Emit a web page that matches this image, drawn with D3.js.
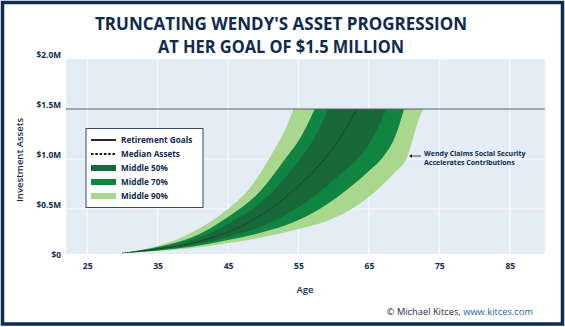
<!DOCTYPE html>
<html><head><meta charset="utf-8">
<script src="https://cdn.jsdelivr.net/npm/d3@7"></script>
<style>
html,body{margin:0;padding:0;background:#fff;}
svg{display:block;}
text{font-family:"Open Sans",Lato,sans-serif;}
</style></head>
<body>
<svg id="chart" width="565" height="327"></svg>
<script>
// ---- data (ages, values in $M) ----
const titleLines = ["TRUNCATING WENDY'S ASSET PROGRESSION", "AT HER GOAL OF $1.5 MILLION"];
const xTicks = [25, 35, 45, 55, 65, 75, 85];
const yTicks = [0, 0.5, 1.0, 1.5, 2.0];
const yTickLabels = ["$0", "$0.5M", "$1.0M", "$1.5M", "$2.0M"];
const goal = 1.5;
// percentile curves [age, value $M], each ends where it reaches the $1.5M goal
const p95 = [[30,0.06],[35,0.13],[40,0.27],[45,0.50],[48,0.70],[50.8,1.0],[53.4,1.34],[54.3,1.5]];
const p85 = [[30,0.06],[35,0.12],[40,0.22],[45,0.42],[49.6,0.68],[53,0.99],[55.5,1.24],[57.3,1.5]];
const p75 = [[30,0.06],[35,0.11],[40,0.19],[45,0.35],[49.6,0.56],[52.5,0.76],[55.2,1.0],[57.5,1.24],[59.2,1.5]];
const p50 = [[30,0.06],[35,0.10],[40,0.16],[45,0.27],[49,0.41],[52,0.55],[55,0.73],[58.7,1.0],[61,1.22],[63.3,1.5]];
const p25 = [[30,0.06],[35,0.09],[40,0.14],[45,0.22],[50,0.33],[54.4,0.49],[58,0.67],[61,0.85],[63.4,1.0],[65.6,1.22],[67.5,1.5]];
const p15 = [[30,0.06],[35,0.085],[40,0.125],[45,0.19],[50,0.27],[54,0.36],[58,0.50],[62,0.70],[65,0.88],[67,1.02],[68.7,1.22],[70,1.5]];
const p05 = [[30,0.06],[35,0.08],[40,0.11],[45,0.16],[50,0.22],[55,0.30],[59,0.38],[63,0.52],[66,0.68],[68.6,0.86],[70.5,1.03],[71.2,1.19],[71.9,1.36],[72.7,1.5]];
const legendLabels = ["Retirement Goals", "Median Assets", "Middle 50%", "Middle 70%", "Middle 90%"];
const annotationLines = ["Wendy Claims Social Security", "Accelerates Contributions"];

// ---- styles ----
const navy = "#0f2b4d";
const colors = {"Middle 90%": "#a9d78e", "Middle 70%": "#0f8541", "Middle 50%": "#19683a"};

const svg = d3.select("#chart");
// frame
svg.append("rect").attr("x", 2.5).attr("y", 2.5).attr("width", 560).attr("height", 321.5)
  .attr("fill", "#fff").attr("stroke", navy).attr("stroke-width", 3.5);

const x = d3.scaleLinear().domain([22, 90]).range([66, 545]);
const y = d3.scaleLinear().domain([0, 2]).range([259, 59]);
const plotTop = 59, plotBottom = 254;

// title
svg.append("g").selectAll("text").data(titleLines).join("text")
  .attr("x", 281).attr("y", (d, i) => 29.5 + i * 23)
  .attr("text-anchor", "middle").attr("fill", navy)
  .attr("font-size", 18).attr("font-weight", 700)
  .attr("textLength", (d, i) => i === 0 ? 372 : 246).attr("lengthAdjust", "spacingAndGlyphs")
  .text(d => d);

// plot background
svg.append("rect").attr("x", x(22)).attr("y", plotTop).attr("width", x(90) - x(22)).attr("height", plotBottom - plotTop)
  .attr("fill", "#e4ecf6");
svg.append("defs").append("clipPath").attr("id", "clip").append("rect")
  .attr("x", x(22)).attr("y", plotTop).attr("width", x(90) - x(22)).attr("height", plotBottom - plotTop);

// gridlines
const grid = svg.append("g").attr("stroke", "#f6f9fd").attr("stroke-width", 1.5);
grid.selectAll("line.v").data(xTicks).join("line").attr("class", "v")
  .attr("x1", d => x(d)).attr("x2", d => x(d)).attr("y1", plotTop).attr("y2", plotBottom);
grid.selectAll("line.h").data([0.5, 1.0]).join("line").attr("class", "h")
  .attr("x1", x(22)).attr("x2", x(90)).attr("y1", d => y(d)).attr("y2", d => y(d));

// bands
const lineGen = d3.line().x(d => x(d[0])).y(d => y(d[1])).curve(d3.curveMonotoneX);
function bandPath(upper, lower) {
  const up = lineGen(upper);
  const low = lineGen(lower.slice().reverse());
  return up + "L" + low.slice(1) + "Z";
}
const bands = [["Middle 90%", p95, p05], ["Middle 70%", p85, p15], ["Middle 50%", p75, p25]];
const gBands = svg.append("g").attr("clip-path", "url(#clip)");
gBands.selectAll("path").data(bands).join("path")
  .attr("d", d => bandPath(d[1], d[2]))
  .attr("fill", d => colors[d[0]]);

// median
gBands.append("path").attr("d", lineGen(p50)).attr("fill", "none")
  .attr("stroke", "#111").attr("stroke-width", 0.9).attr("stroke-dasharray", "1,1.4");

// goal line
svg.append("line").attr("x1", x(22)).attr("x2", x(90)).attr("y1", y(goal)).attr("y2", y(goal))
  .attr("stroke", "#5a5f66").attr("stroke-width", 1.2);

// axes
const xAxis = svg.append("g").attr("transform", `translate(0,${plotBottom})`)
  .call(d3.axisBottom(x).tickValues(xTicks).tickSize(0).tickPadding(9).tickFormat(d3.format("d")));
xAxis.select(".domain").remove();
xAxis.selectAll("text").attr("fill", navy).attr("font-size", 8.5).attr("font-weight", 700)
  .attr("font-family", "'Open Sans', sans-serif");

const yAxis = svg.append("g").attr("transform", `translate(62,0)`)
  .call(d3.axisLeft(y).tickValues(yTicks).tickSize(0).tickPadding(1).tickFormat((d, i) => yTickLabels[i]));
yAxis.select(".domain").remove();
yAxis.selectAll("text").attr("fill", navy).attr("font-size", 8.3).attr("font-weight", 700)
  .attr("font-family", "'Open Sans', sans-serif").attr("dy", "-0.15em");

// axis titles
svg.append("text").attr("x", 305).attr("y", 293).attr("text-anchor", "middle")
  .attr("fill", navy).attr("font-size", 9.5).attr("font-weight", 600).text("Age");
svg.append("text").attr("transform", "translate(23,160) rotate(-90)").attr("text-anchor", "middle")
  .attr("fill", navy).attr("font-size", 9.5).attr("font-weight", 600).text("Investment Assets");

// legend
const lg = svg.append("g");
lg.append("rect").attr("x", 86).attr("y", 128.5).attr("width", 117).attr("height", 79)
  .attr("fill", "#fff").attr("stroke", "#3d4868").attr("stroke-width", 1);
const rowY = [140, 154, 168, 182, 196];
legendLabels.forEach((lab, i) => {
  const yy = rowY[i];
  if (i === 0) {
    lg.append("line").attr("x1", 91).attr("x2", 116).attr("y1", yy).attr("y2", yy).attr("stroke", "#111").attr("stroke-width", 1.8);
  } else if (i === 1) {
    lg.append("line").attr("x1", 91).attr("x2", 116).attr("y1", yy).attr("y2", yy).attr("stroke", "#111").attr("stroke-width", 1.8).attr("stroke-dasharray", "2.5,1.8");
  } else {
    lg.append("rect").attr("x", 91).attr("y", yy - 3).attr("width", 25).attr("height", 6).attr("fill", colors[lab]);
  }
  lg.append("text").attr("x", 121).attr("y", yy + 3).attr("fill", navy).attr("font-size", 8.2).attr("font-weight", 700).text(lab);
});

// annotation
const ann = svg.append("g");
ann.append("line").attr("x1", 421).attr("x2", 410).attr("y1", 156).attr("y2", 156).attr("stroke", "#222").attr("stroke-width", 0.8);
ann.append("path").attr("d", "M409,156 L412,154.3 L412,157.7 Z").attr("fill", "#222");
ann.selectAll("text").data(annotationLines).join("text")
  .attr("x", 424).attr("y", (d, i) => 155.5 + i * 9.5)
  .attr("fill", navy).attr("font-size", 7).attr("font-weight", 700).text(d => d);

// credit
const cr = svg.append("text").attr("x", 533).attr("y", 315).attr("text-anchor", "end")
  .attr("font-size", 9.3).attr("fill", "#1c2a44");
cr.append("tspan").text("© Michael Kitces, ");
cr.append("tspan").attr("fill", "#1f5fa8").text("www.kitces.com");
</script>
</body></html>
